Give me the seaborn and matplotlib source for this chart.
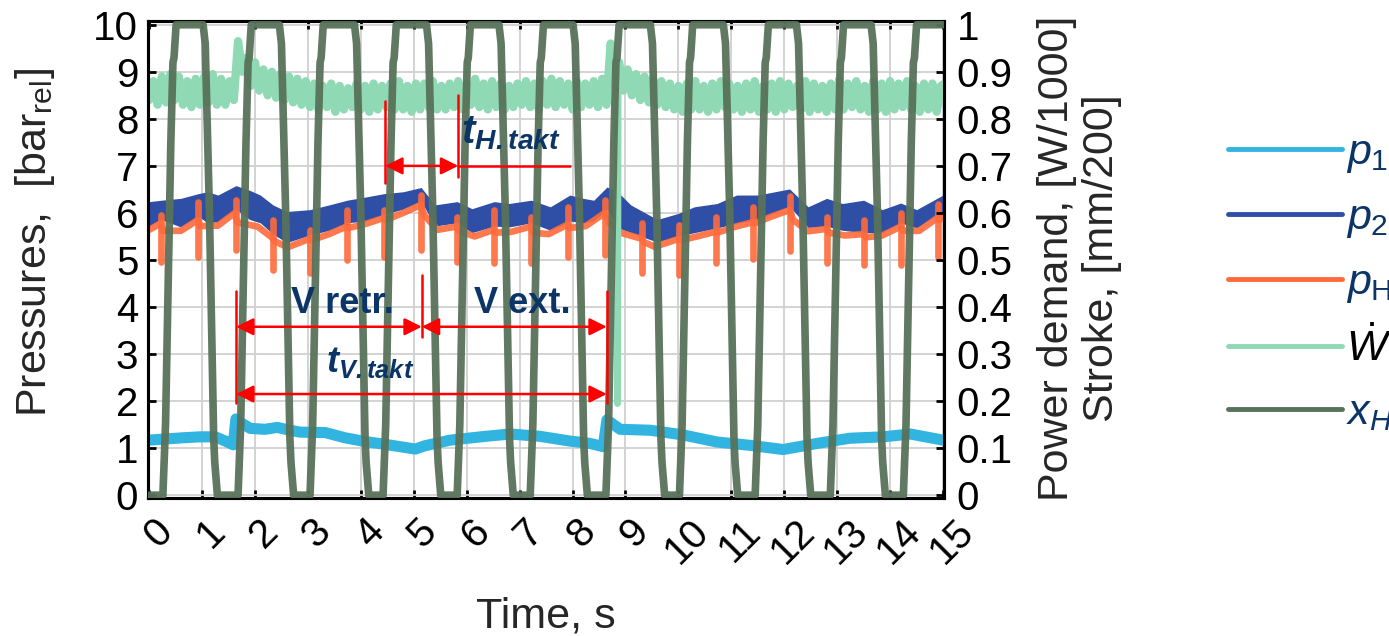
import numpy as np
import matplotlib
matplotlib.use("Agg")
import matplotlib.pyplot as plt
import matplotlib.transforms as mtransforms
import seaborn as sns
from matplotlib.lines import Line2D

# ---------------- data ----------------
# p1 pressure [bar]
p1_t = [0.00, 0.64, 0.96, 1.25, 1.44, 1.59, 1.64, 1.72, 1.91, 2.19, 2.42, 2.66, 2.85, 3.33,
        3.70, 4.08, 4.46, 5.03, 5.21, 5.69, 6.35, 6.82, 7.39, 7.95, 8.33, 8.58, 8.65, 8.75,
        8.90, 9.47, 10.09, 10.73, 11.35, 11.98, 12.62, 13.24, 13.87, 14.38, 15.00]
p1_v = [1.17, 1.22, 1.24, 1.24, 1.15, 1.07, 1.62, 1.55, 1.42, 1.40, 1.44, 1.38, 1.34, 1.33,
        1.22, 1.14, 1.08, 0.98, 1.05, 1.17, 1.25, 1.30, 1.25, 1.15, 1.10, 1.03, 1.60, 1.52,
        1.40, 1.38, 1.28, 1.13, 1.06, 0.97, 1.10, 1.21, 1.24, 1.30, 1.17]

# p2 pressure band (lower / upper envelope) [bar]
p2_t = [0.00, 0.23, 0.60, 0.93, 1.10, 1.30, 1.64, 1.90, 2.10, 2.34, 2.60, 3.04, 3.40, 3.74,
        4.10, 4.44, 4.80, 5.14, 5.40, 5.82, 6.10, 6.52, 6.80, 7.22, 7.58, 7.95, 8.20, 8.40,
        8.65, 8.85, 9.10, 9.60, 10.00, 10.30, 10.73, 11.10, 11.50, 12.10, 12.45, 12.80,
        13.10, 13.50, 13.85, 14.20, 14.50, 15.00]
p2_lo = [5.72, 5.86, 5.70, 5.93, 5.79, 5.81, 6.08, 5.86, 5.79, 5.55, 5.37, 5.53, 5.63, 5.79,
         5.83, 5.97, 6.08, 6.25, 5.72, 5.79, 5.58, 5.72, 5.70, 5.79, 5.63, 5.83, 5.79, 5.83,
         6.08, 5.69, 5.58, 5.38, 5.51, 5.58, 5.68, 5.78, 5.86, 6.14, 5.69, 5.72,
         5.63, 5.58, 5.58, 5.79, 5.68, 6.04]
p2_hi = [6.24, 6.27, 6.31, 6.41, 6.45, 6.38, 6.58, 6.48, 6.38, 6.17, 6.03, 6.07, 6.17, 6.27,
         6.34, 6.41, 6.45, 6.54, 6.17, 6.24, 6.09, 6.24, 6.20, 6.27, 6.13, 6.38, 6.31, 6.27,
         6.55, 6.45, 6.17, 5.86, 5.99, 6.13, 6.20, 6.38, 6.38, 6.51, 6.13, 6.31,
         6.20, 6.27, 6.07, 6.21, 6.07, 6.38]

# pH pressure line [bar]
pH_t = [0.00, 0.22, 0.26, 0.60, 0.92, 0.96, 1.30, 1.62, 1.66, 2.05, 2.33, 2.37, 2.62, 3.03,
        3.07, 3.40, 3.73, 3.77, 4.10, 4.43, 4.47, 4.80, 5.13, 5.20, 5.45, 5.81, 5.85, 6.15,
        6.51, 6.55, 6.85, 7.21, 7.25, 7.55, 7.90, 7.94, 8.25, 8.61, 8.68, 8.90, 9.31, 9.35,
        9.55, 10.01, 10.05, 10.35, 10.70, 10.74, 11.05, 11.40, 11.44, 11.75, 12.10, 12.17,
        12.45, 12.80, 12.84, 13.15, 13.50, 13.54, 13.85, 14.20, 14.24, 14.55, 14.90, 14.94, 15.00]
pH_v = [5.64, 5.78, 5.62, 5.62, 5.85, 5.72, 5.73, 6.00, 5.80, 5.71, 5.47, 5.40, 5.27, 5.45,
        5.42, 5.55, 5.71, 5.68, 5.77, 5.89, 5.85, 6.00, 6.17, 5.95, 5.64, 5.71, 5.62, 5.50,
        5.64, 5.58, 5.60, 5.71, 5.58, 5.55, 5.75, 5.68, 5.72, 6.00, 5.80, 5.58, 5.45, 5.38,
        5.28, 5.45, 5.42, 5.50, 5.60, 5.58, 5.70, 5.80, 5.78, 5.92, 6.06, 5.85,
        5.61, 5.66, 5.58, 5.52, 5.55, 5.48, 5.52, 5.71, 5.62, 5.62, 5.90, 5.85, 5.92]

# pH valve-switch spikes [bar]
spike_t = [0.23, 0.93, 1.64, 2.34, 3.04, 3.74, 4.44, 5.14, 5.82, 6.52, 7.22, 7.91, 8.62,
           9.32, 10.02, 10.71, 11.41, 12.11, 12.81, 13.51, 14.21, 14.91]
spike_hi = [5.96, 6.24, 6.28, 5.85, 5.64, 6.06, 6.06, 6.38, 5.92, 6.06, 5.92, 6.13, 6.28,
            5.78, 5.75, 5.92, 6.13, 6.35, 5.92, 5.85, 6.00, 6.20]
spike_lo = [4.96, 5.07, 5.21, 4.79, 4.72, 5.00, 5.07, 5.21, 4.96, 4.93, 4.93, 5.07, 5.10,
            4.72, 4.68, 4.93, 5.02, 5.20, 4.93, 4.90, 4.90, 5.07]

# power demand W/1000, sampled every 0.08 s
w_v = [0.84, 0.88, 0.83, 0.89, 0.835, 0.895, 0.84, 0.89, 0.83, 0.88,
       0.825, 0.885, 0.83, 0.89, 0.835, 0.895, 0.83, 0.885, 0.83, 0.88,
       0.84, 0.965, 0.90, 0.93, 0.87, 0.92, 0.86, 0.905, 0.85, 0.90,
       0.845, 0.895, 0.84, 0.89, 0.835, 0.885, 0.83, 0.88, 0.825, 0.875,
       0.82, 0.87, 0.825, 0.875, 0.815, 0.87, 0.82, 0.865, 0.825, 0.875,
       0.82, 0.87, 0.815, 0.875, 0.82, 0.87, 0.825, 0.875, 0.82, 0.88,
       0.82, 0.87, 0.815, 0.875, 0.82, 0.875, 0.825, 0.88, 0.82, 0.87,
       0.82, 0.875, 0.825, 0.88, 0.82, 0.875, 0.83, 0.885, 0.825, 0.875,
       0.82, 0.88, 0.825, 0.875, 0.82, 0.87, 0.825, 0.875, 0.83, 0.88,
       0.825, 0.875, 0.82, 0.88, 0.83, 0.885, 0.825, 0.88, 0.83, 0.875,
       0.82, 0.88, 0.825, 0.875, 0.83, 0.88, 0.825, 0.885, 0.83, 0.96,
       0.90, 0.92, 0.86, 0.905, 0.85, 0.895, 0.84, 0.89, 0.835, 0.885,
       0.83, 0.88, 0.825, 0.875, 0.82, 0.87, 0.815, 0.875, 0.82, 0.88,
       0.82, 0.87, 0.815, 0.875, 0.82, 0.88, 0.825, 0.875, 0.82, 0.87,
       0.815, 0.875, 0.82, 0.88, 0.815, 0.87, 0.82, 0.875, 0.815, 0.88,
       0.82, 0.875, 0.825, 0.87, 0.82, 0.88, 0.815, 0.875, 0.82, 0.87,
       0.815, 0.875, 0.82, 0.885, 0.82, 0.875, 0.825, 0.88, 0.82, 0.87,
       0.815, 0.88, 0.82, 0.875, 0.815, 0.88, 0.82, 0.875, 0.825, 0.88,
       0.82, 0.87, 0.815, 0.875, 0.82, 0.875, 0.815, 0.87, 0.875]
w_step = 0.08
w_drop_t = [8.84, 8.85, 8.86]
w_drop_v = [0.90, 0.195, 0.92]

# stroke x_H / 200 mm
stroke_t = [0.00,
            0.26, 0.31, 0.41, 0.45, 0.47, 0.51, 1.02, 1.06, 1.14, 1.22, 1.24, 1.29,
            1.68, 1.73, 1.83, 1.87, 1.89, 1.93, 2.46, 2.50, 2.58, 2.66, 2.68, 2.73,
            3.04, 3.09, 3.19, 3.23, 3.25, 3.29, 3.88, 3.92, 4.00, 4.08, 4.10, 4.15,
            4.42, 4.47, 4.57, 4.61, 4.63, 4.67, 5.24, 5.28, 5.36, 5.44, 5.46, 5.51,
            5.82, 5.87, 5.97, 6.01, 6.03, 6.07, 6.61, 6.65, 6.73, 6.81, 6.83, 6.88,
            7.20, 7.25, 7.35, 7.39, 7.41, 7.45, 8.01, 8.05, 8.13, 8.21, 8.23, 8.28,
            8.63, 8.68, 8.78, 8.82, 8.84, 8.88, 9.47, 9.51, 9.59, 9.67, 9.69, 9.74,
            10.02, 10.07, 10.17, 10.21, 10.23, 10.27, 10.85, 10.89, 10.97, 11.05, 11.07, 11.12,
            11.45, 11.50, 11.60, 11.64, 11.66, 11.70, 12.23, 12.27, 12.35, 12.43, 12.45, 12.50,
            12.87, 12.92, 13.02, 13.06, 13.08, 13.12, 13.64, 13.68, 13.76, 13.84, 13.86, 13.91,
            14.25, 14.30, 14.40, 14.44, 14.46, 14.50, 15.00]
stroke_v = [0.0,
            0.0, 0.15, 0.75, 0.92, 0.93, 1.0, 1.0, 0.96, 0.6, 0.12, 0.07, 0.0,
            0.0, 0.15, 0.75, 0.92, 0.93, 1.0, 1.0, 0.96, 0.6, 0.12, 0.07, 0.0,
            0.0, 0.15, 0.75, 0.92, 0.93, 1.0, 1.0, 0.96, 0.6, 0.12, 0.07, 0.0,
            0.0, 0.15, 0.75, 0.92, 0.93, 1.0, 1.0, 0.96, 0.6, 0.12, 0.07, 0.0,
            0.0, 0.15, 0.75, 0.92, 0.93, 1.0, 1.0, 0.96, 0.6, 0.12, 0.07, 0.0,
            0.0, 0.15, 0.75, 0.92, 0.93, 1.0, 1.0, 0.96, 0.6, 0.12, 0.07, 0.0,
            0.0, 0.15, 0.75, 0.92, 0.93, 1.0, 1.0, 0.96, 0.6, 0.12, 0.07, 0.0,
            0.0, 0.15, 0.75, 0.92, 0.93, 1.0, 1.0, 0.96, 0.6, 0.12, 0.07, 0.0,
            0.0, 0.15, 0.75, 0.92, 0.93, 1.0, 1.0, 0.96, 0.6, 0.12, 0.07, 0.0,
            0.0, 0.15, 0.75, 0.92, 0.93, 1.0, 1.0, 0.96, 0.6, 0.12, 0.07, 0.0,
            0.0, 0.15, 0.75, 0.92, 0.93, 1.0, 1.0]

x_ticks = list(range(16))
left_ticks = list(range(11))
right_ticks = [0, 0.1, 0.2, 0.3, 0.4, 0.5, 0.6, 0.7, 0.8, 0.9, 1]
right_labels = ["0", "0.1", "0.2", "0.3", "0.4", "0.5", "0.6", "0.7", "0.8", "0.9", "1"]
legend_labels = [r"$p_1$", r"$p_2$", r"$p_\mathrm{H}$", r"$\dot{W}$", r"$x_H$"]

# ---------------- style ----------------
C_P1 = "#31b4e0"
C_P2 = "#2f4ea6"
C_PH = "#ff6a3c"
C_W = "#8fd9b4"
C_X = "#587259"
NAVY = "#0b3566"
RED = "#ff0000"

sns.set_theme(style="white")
plt.rcParams["font.family"] = ["Liberation Sans", "DejaVu Sans"]
plt.rcParams["mathtext.fontset"] = "custom"
plt.rcParams["mathtext.rm"] = "Liberation Sans"
plt.rcParams["mathtext.it"] = "Liberation Sans:italic"
plt.rcParams["mathtext.bf"] = "Liberation Sans:bold"
plt.rcParams["mathtext.bfit"] = "Liberation Sans:italic:bold"

fig = plt.figure(figsize=(13.89, 6.36), dpi=100)
ax = fig.add_axes([0.1066, 0.217, 0.5731, 0.750])
ax2 = ax.twinx()

# left axis: pressures
ax.fill_between(p2_t, p2_lo, p2_hi, color=C_P2, lw=0, zorder=2)
sns.lineplot(x=pH_t, y=pH_v, ax=ax, color=C_PH, lw=4.8, alpha=0.9, zorder=3)
ax.vlines(spike_t, spike_lo, spike_hi, color=C_PH, lw=4.8, alpha=0.9, zorder=3,
          capstyle="round")
sns.lineplot(x=p1_t, y=p1_v, ax=ax, color=C_P1, lw=8, zorder=4)

# right axis: power and stroke
w_t = np.arange(len(w_v)) * w_step
sns.lineplot(x=w_t, y=w_v, ax=ax2, color=C_W, lw=6, zorder=2)
ax2.plot(w_drop_t, w_drop_v, color=C_W, lw=5, zorder=2)
sns.lineplot(x=stroke_t, y=stroke_v, ax=ax2, color=C_X, lw=5.5, alpha=0.95, zorder=3)

# axes setup
ax.set_xlim(-0.02, 15.02)
ax.set_ylim(-0.06, 10.08)
ax2.set_ylim(-0.006, 1.008)
ax.set_xticks(x_ticks)
ax.set_xticklabels([str(v) for v in x_ticks], rotation=45)
ax.set_yticks(left_ticks)
ax.set_yticklabels([str(v) for v in left_ticks])
ax2.set_yticks(right_ticks)
ax2.set_yticklabels(right_labels)

ax.grid(True, color="#d0d0d0", lw=1.3)
ax.set_axisbelow(True)
ax.tick_params(axis="x", direction="in", length=6, width=2, labelsize=29, pad=10,
               top=True, bottom=True, colors="black")
ax.tick_params(axis="y", direction="in", length=6, width=2, labelsize=29, pad=7,
               left=True, right=False, colors="black")
ax2.tick_params(axis="y", direction="in", length=6, width=2, labelsize=29, pad=9,
                right=True, colors="black")
shift = mtransforms.ScaledTranslation(6.5 / 72, 0, fig.dpi_scale_trans)
for lab in ax.get_xticklabels():
    lab.set_transform(lab.get_transform() + shift)
for a in (ax, ax2):
    for sp in a.spines.values():
        sp.set_linewidth(2.2)
        sp.set_color("black")

ax.set_xlabel("Time, s", fontsize=31, labelpad=19)
ax.set_ylabel(r"Pressures,  [bar$_{\mathrm{rel}}$]", fontsize=31)
ax.yaxis.set_label_coords(-0.114, 0.535)
ax2.set_ylabel("Power demand, [W/1000]\nStroke, [mm/200]", fontsize=31, linespacing=1.15)
ax2.yaxis.set_label_coords(1.117, 0.503)

# ---------------- annotations (right-axis units) ----------------
arrow_kw = dict(arrowstyle="<|-|>", color=RED, lw=1.8, mutation_scale=26,
                shrinkA=0, shrinkB=0)
# t_H,takt
ax2.plot([4.46, 4.46], [0.837, 0.663], color=RED, lw=1.8, zorder=6)
ax2.plot([5.84, 5.84], [0.851, 0.677], color=RED, lw=1.8, zorder=6)
ax2.annotate("", xy=(4.46, 0.70), xytext=(5.84, 0.70), arrowprops=arrow_kw, zorder=6)
ax2.plot([5.84, 7.95], [0.70, 0.70], color=RED, lw=1.8, zorder=6)
ax2.text(5.9, 0.748, r"$\mathbfit{t}_{\mathbfit{H.takt}}$", color=NAVY, fontsize=29,
         va="baseline", ha="left", zorder=7)
# V retr. / V ext. / t_V,takt
ax2.plot([1.644, 1.644], [0.433, 0.195], color=RED, lw=1.8, zorder=6)
ax2.plot([5.152, 5.152], [0.468, 0.337], color=RED, lw=1.8, zorder=6)
ax2.plot([8.647, 8.647], [0.433, 0.195], color=RED, lw=1.8, zorder=6)
ax2.annotate("", xy=(1.644, 0.358), xytext=(5.152, 0.358), arrowprops=arrow_kw, zorder=6)
ax2.annotate("", xy=(5.152, 0.358), xytext=(8.647, 0.358), arrowprops=arrow_kw, zorder=6)
ax2.annotate("", xy=(1.644, 0.215), xytext=(8.647, 0.215), arrowprops=arrow_kw, zorder=6)
ax2.text(3.65, 0.408, "V retr.", color=NAVY, fontsize=26, fontweight="bold",
         ha="center", va="center", zorder=7)
ax2.text(7.05, 0.408, "V ext.", color=NAVY, fontsize=26, fontweight="bold",
         ha="center", va="center", zorder=7)
ax2.text(4.18, 0.262, r"$\mathbfit{t}_{\mathbfit{V.takt}}$", color=NAVY, fontsize=26,
         va="baseline", ha="center", zorder=7)

# ---------------- legend ----------------
handles = [Line2D([], [], color=c, lw=3.5) for c in (C_P1, C_P2, C_PH, C_W, C_X)]
fig.legend(handles, legend_labels, loc="upper left",
           bbox_to_anchor=(1228 / 1389, 1 - 133 / 636), frameon=False, fontsize=31,
           handlelength=2.65, handletextpad=0.1, labelspacing=0.53, borderpad=0,
           borderaxespad=0,
           labelcolor=[NAVY, NAVY, NAVY, "black", NAVY])

fig.savefig("out.png", dpi=100)
